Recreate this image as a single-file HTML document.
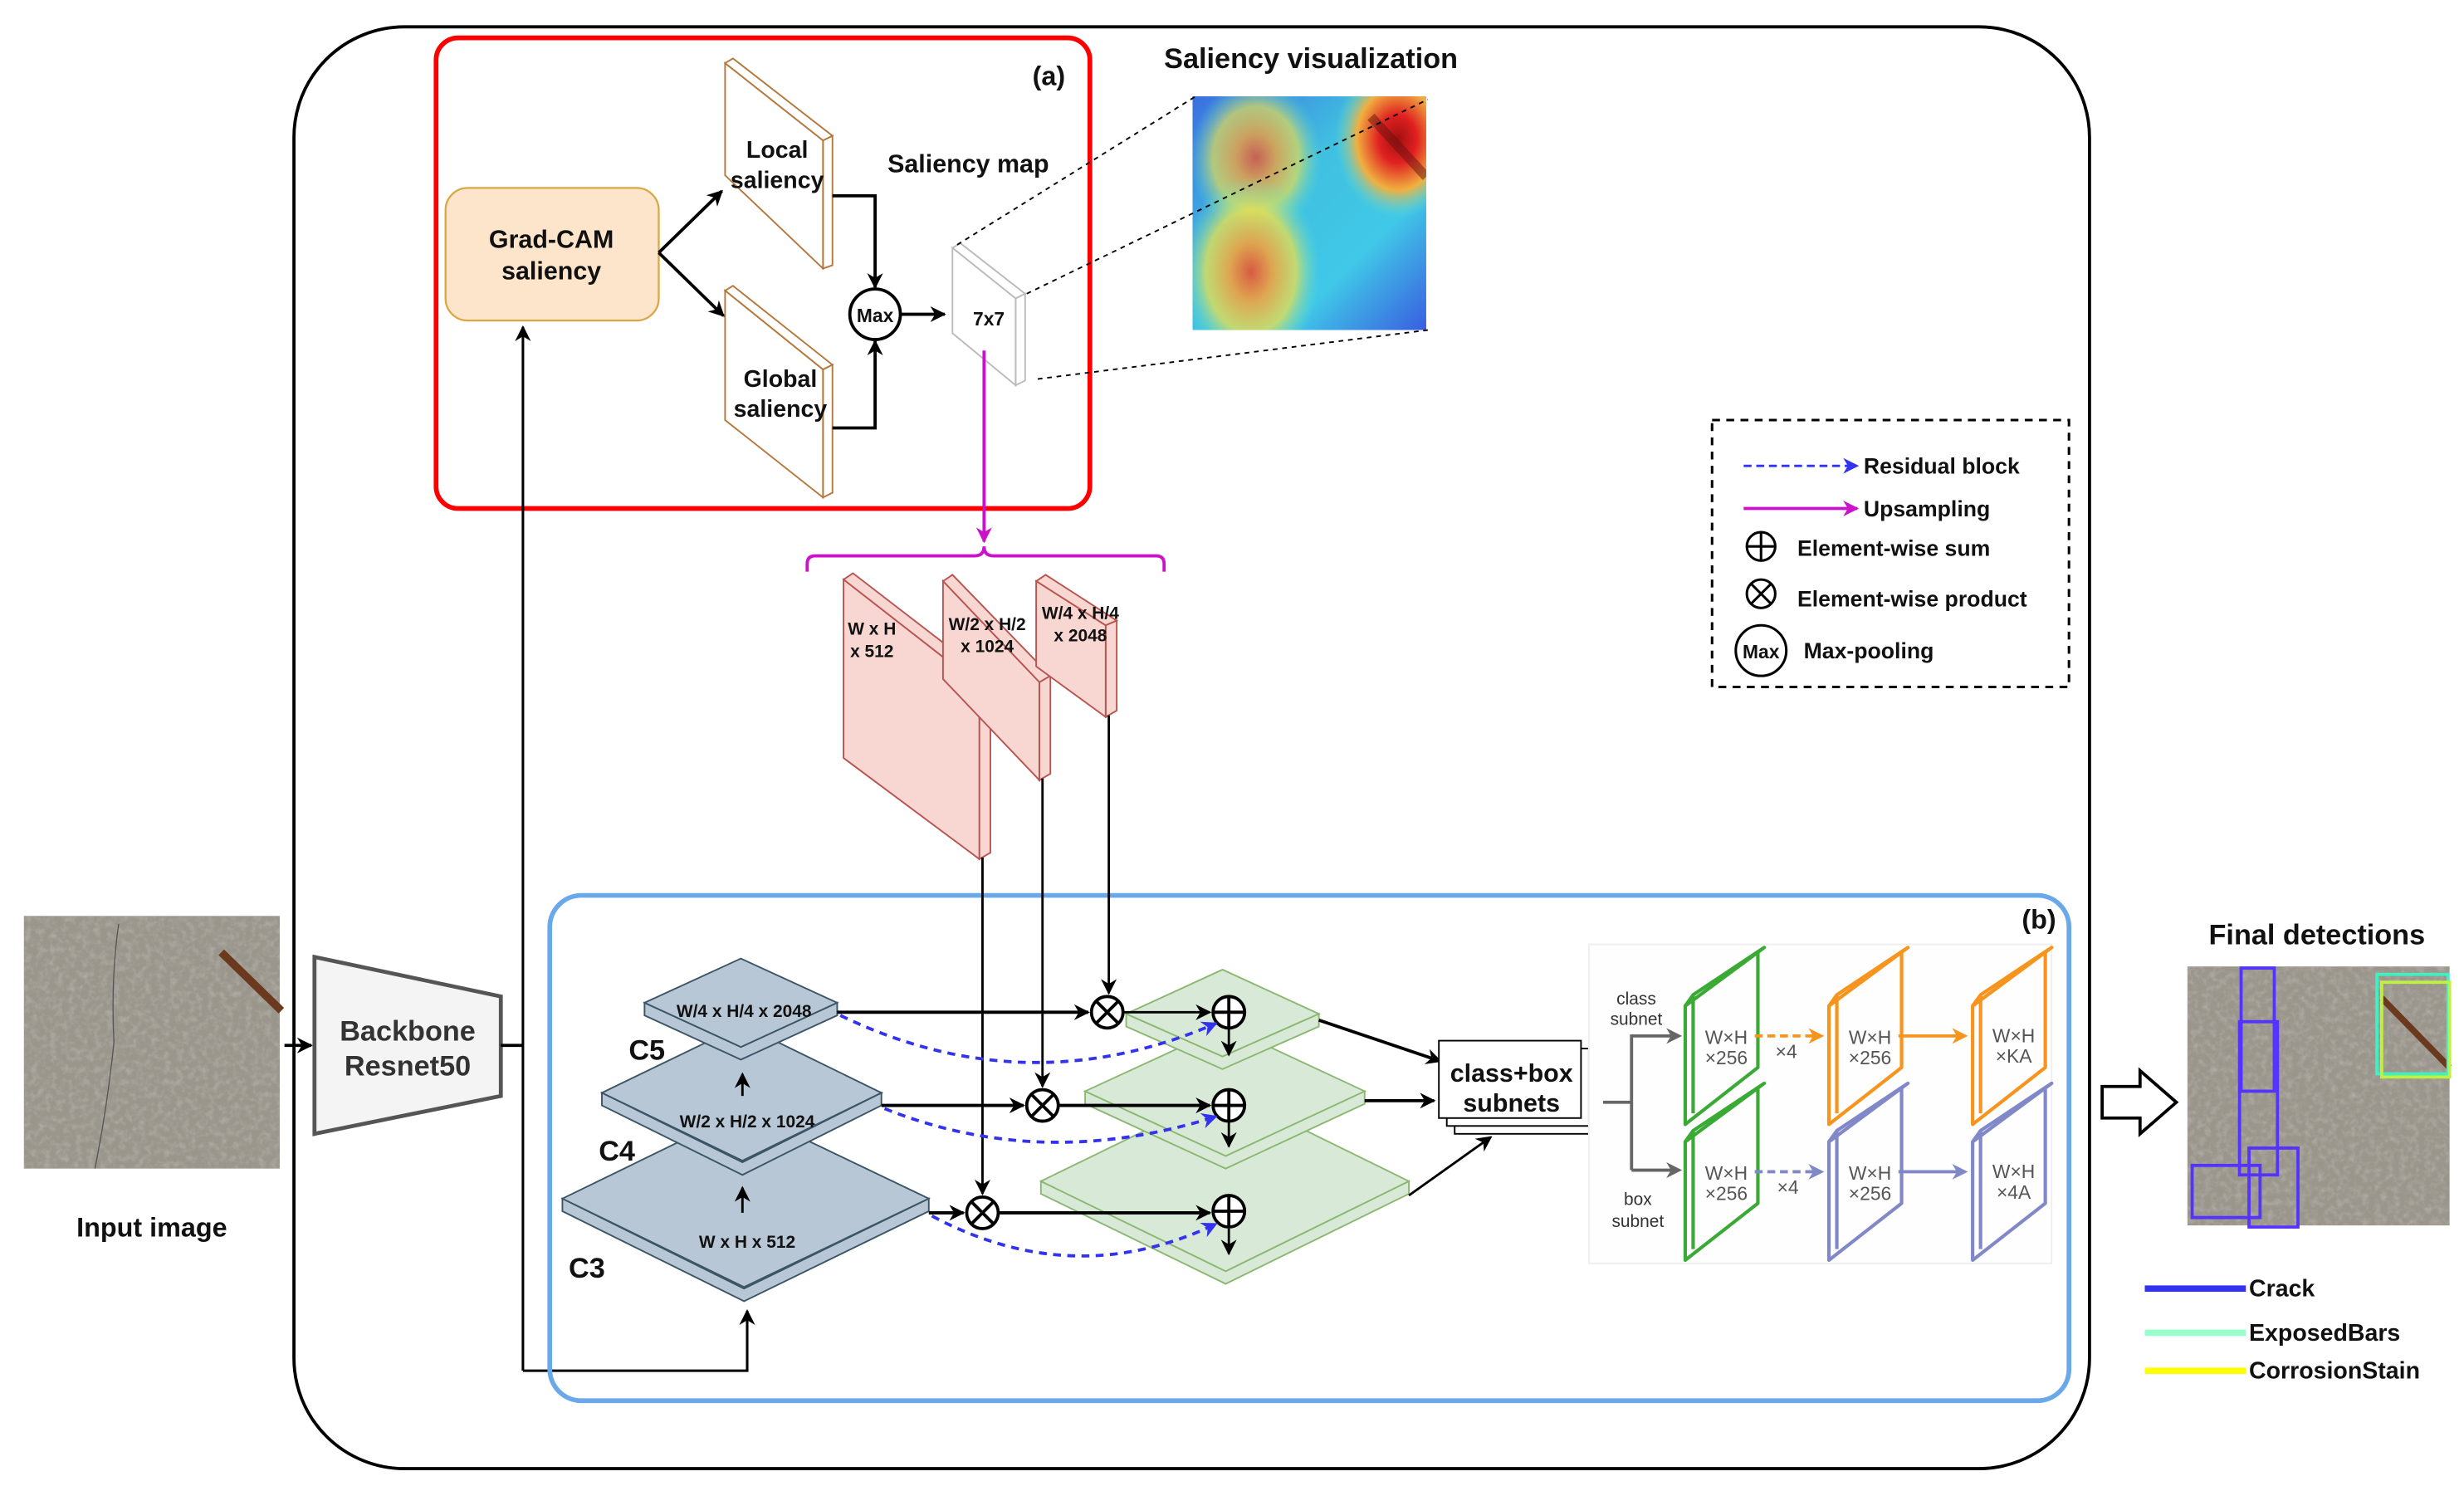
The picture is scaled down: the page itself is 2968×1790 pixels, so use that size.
<!DOCTYPE html>
<html><head><meta charset="utf-8"><style>
html,body{margin:0;padding:0;background:#fff;}
svg{display:block;}
text{font-family:"Liberation Sans",Arial,sans-serif;font-weight:bold;fill:#111;}
</style></head><body>
<svg width="2968" height="1790" viewBox="0 0 1560 941" xmlns="http://www.w3.org/2000/svg">
<defs>
<marker id="ak" markerUnits="userSpaceOnUse" markerWidth="12" markerHeight="12" refX="9" refY="5" orient="auto"><path d="M0,0 L10,5 L0,10 L3,5 z" fill="#000"/></marker>
<marker id="ab" markerUnits="userSpaceOnUse" markerWidth="12" markerHeight="12" refX="9" refY="5" orient="auto"><path d="M0,0 L10,5 L0,10 L3,5 z" fill="#3333ee"/></marker>
<marker id="am" markerUnits="userSpaceOnUse" markerWidth="12" markerHeight="12" refX="9" refY="5" orient="auto"><path d="M0,0 L10,5 L0,10 L3,5 z" fill="#cc11cc"/></marker>
<marker id="ag" markerUnits="userSpaceOnUse" markerWidth="12" markerHeight="12" refX="8" refY="5" orient="auto"><path d="M0,0 L10,5 L0,10 L3,5 z" fill="#666"/></marker>
<marker id="ao" markerUnits="userSpaceOnUse" markerWidth="12" markerHeight="12" refX="8" refY="5" orient="auto"><path d="M0,0 L10,5 L0,10 L3,5 z" fill="#f7941d"/></marker>
<marker id="al" markerUnits="userSpaceOnUse" markerWidth="12" markerHeight="12" refX="8" refY="5" orient="auto"><path d="M0,0 L10,5 L0,10 L3,5 z" fill="#8088c8"/></marker>
<filter id="conc" x="0" y="0" width="100%" height="100%">
<feTurbulence type="fractalNoise" baseFrequency="0.25" numOctaves="3" seed="4"/>
<feColorMatrix type="matrix" values="0 0 0 0 0.5  0 0 0 0 0.48  0 0 0 0 0.45  0 0 0 1.3 -0.55"/>
<feComposite in2="SourceGraphic" operator="in"/>
</filter>
<clipPath id="hclip"><rect x="755" y="61" width="148" height="148"/></clipPath>
<radialGradient id="hy"><stop offset="0" stop-color="#e85030"/><stop offset="0.3" stop-color="#f0a040"/><stop offset="0.65" stop-color="#e8e050" stop-opacity="0.85"/><stop offset="1" stop-color="#60e0d0" stop-opacity="0"/></radialGradient>
<radialGradient id="hr"><stop offset="0" stop-color="#a01010"/><stop offset="0.3" stop-color="#e02020"/><stop offset="0.65" stop-color="#f0b040"/><stop offset="1" stop-color="#60e0d0" stop-opacity="0"/></radialGradient>
<linearGradient id="hb" x1="0" y1="0" x2="1" y2="1"><stop offset="0" stop-color="#3a6ee0"/><stop offset="0.4" stop-color="#40c0e0"/><stop offset="0.7" stop-color="#40c8e8"/><stop offset="1" stop-color="#3a5ee0"/></linearGradient>
</defs>

<rect x="186" y="17" width="1137" height="913" rx="70" fill="none" stroke="#000" stroke-width="2"/>

<rect x="276" y="24" width="414" height="298" rx="14" fill="none" stroke="#f00" stroke-width="3"/>
<text x="664" y="54" font-size="17" text-anchor="middle">(a)</text>
<rect x="282" y="119" width="135" height="84" rx="14" fill="#fde5cc" stroke="#d9a845" stroke-width="1.2"/>
<text x="349" y="157" font-size="16" text-anchor="middle">Grad-CAM</text>
<text x="349" y="177" font-size="16" text-anchor="middle">saliency</text>

<g fill="#fff" stroke="#b5763a" stroke-width="1">
<polygon points="459,40 464,37 527,86 521,89"/>
<polygon points="521,89 527,86 527,168 521,170"/>
<polygon points="459,40 521,89 521,170 459,111"/>
<polygon points="459,184 464,181 527,231 521,234"/>
<polygon points="521,234 527,231 527,312 521,315"/>
<polygon points="459,184 521,234 521,315 459,266"/>
</g>
<text x="492" y="100" font-size="15" text-anchor="middle">Local</text>
<text x="492" y="119" font-size="15" text-anchor="middle">saliency</text>
<text x="494" y="245" font-size="15" text-anchor="middle">Global</text>
<text x="494" y="264" font-size="15" text-anchor="middle">saliency</text>
<path d="M417,160 L457,121" stroke="#000" stroke-width="2" fill="none" marker-end="url(#ak)"/>
<path d="M417,160 L458,200" stroke="#000" stroke-width="2" fill="none" marker-end="url(#ak)"/>
<path d="M527,124 L554,124 L554,182" stroke="#000" stroke-width="2" fill="none" marker-end="url(#ak)"/>
<path d="M527,271 L554,271 L554,216" stroke="#000" stroke-width="2" fill="none" marker-end="url(#ak)"/>
<circle cx="554" cy="199" r="16" fill="#fff" stroke="#000" stroke-width="2"/>
<text x="554" y="204" font-size="12" text-anchor="middle">Max</text>
<path d="M570,199 L598,199" stroke="#000" stroke-width="2" fill="none" marker-end="url(#ak)"/>

<g fill="#fff" stroke="#bbb" stroke-width="1">
<polygon points="603,157 608,154 649,186 643,189"/>
<polygon points="643,189 649,186 649,241 643,244"/>
<polygon points="603,157 643,189 643,244 603,211"/>
</g>
<text x="626" y="206" font-size="12" text-anchor="middle">7x7</text>
<text x="613" y="109" font-size="16" text-anchor="middle">Saliency map</text>

<text x="830" y="43" font-size="18" text-anchor="middle">Saliency visualization</text>
<g clip-path="url(#hclip)">
<rect x="755" y="61" width="148" height="148" fill="url(#hb)"/>
<ellipse cx="795" cy="100" rx="42" ry="50" fill="url(#hy)" opacity="0.8"/>
<ellipse cx="792" cy="172" rx="44" ry="60" fill="url(#hy)" opacity="0.9"/>
<ellipse cx="885" cy="88" rx="40" ry="50" fill="url(#hr)"/>
<path d="M868,74 L903,112" stroke="#6a1010" stroke-width="6" opacity="0.5"/>
</g>
<g stroke="#000" stroke-width="1" stroke-dasharray="3,3" fill="none">
<path d="M606,155 L757,61"/>
<path d="M650,186 L904,63"/>
<path d="M657,240 L904,209"/>
</g>

<path d="M623,222 L623,343" stroke="#cc11cc" stroke-width="2" fill="none" marker-end="url(#am)"/>
<path d="M511,362 L511,357 Q511,352 516,352 L617,352 Q623,352 623,346 Q623,352 629,352 L732,352 Q737,352 737,357 L737,362" stroke="#cc11cc" stroke-width="2" fill="none"/>

<g fill="#f8d7d3" stroke="#b85450" stroke-width="1">
<polygon points="534,367 540,363 627,430 620,434"/>
<polygon points="620,434 627,430 627,540 620,544"/>
<polygon points="534,367 620,434 620,544 534,480"/>
<polygon points="597,368 603,364 665,428 658,432"/>
<polygon points="658,432 665,428 665,490 658,494"/>
<polygon points="597,368 658,432 658,494 597,430"/>
<polygon points="656,368 662,364 707,393 700,396"/>
<polygon points="700,396 707,393 707,450 700,454"/>
<polygon points="656,368 700,396 700,454 656,422"/>
</g>
<g font-size="11">
<text x="552" y="402" text-anchor="middle">W x H</text>
<text x="552" y="416" text-anchor="middle">x 512</text>
<text x="625" y="399" text-anchor="middle">W/2 x H/2</text>
<text x="625" y="413" text-anchor="middle">x 1024</text>
<text x="684" y="392" text-anchor="middle">W/4 x H/4</text>
<text x="684" y="406" text-anchor="middle">x 2048</text>
</g>

<rect x="1084" y="266" width="226" height="169" fill="none" stroke="#000" stroke-width="1.6" stroke-dasharray="5,4"/>
<path d="M1104,295 L1176,295" stroke="#3333ee" stroke-width="1.5" stroke-dasharray="5,3" fill="none" marker-end="url(#ab)"/>
<text x="1180" y="300" font-size="14">Residual block</text>
<path d="M1104,322 L1176,322" stroke="#cc11cc" stroke-width="2" fill="none" marker-end="url(#am)"/>
<text x="1180" y="327" font-size="14">Upsampling</text>
<g stroke="#000" stroke-width="1.6" fill="#fff">
<circle cx="1115" cy="346" r="9"/><path d="M1106,346 H1124 M1115,337 V355"/>
<circle cx="1115" cy="376" r="9"/><path d="M1109,370 L1121,382 M1121,370 L1109,382"/>
<circle cx="1115" cy="412" r="16"/>
</g>
<text x="1115" y="417" font-size="12" text-anchor="middle">Max</text>
<text x="1138" y="352" font-size="14">Element-wise sum</text>
<text x="1138" y="384" font-size="14">Element-wise product</text>
<text x="1142" y="417" font-size="14">Max-pooling</text>

<rect x="15" y="580" width="162" height="160" fill="#9a968c"/>
<rect x="15" y="580" width="162" height="160" fill="#a8a396" filter="url(#conc)"/>
<path d="M140,603 L178,640" stroke="#6b3a1e" stroke-width="5"/>
<path d="M75,585 Q70,620 72,660 Q68,700 60,740" stroke="#555" stroke-width="0.7" fill="none"/>
<text x="96" y="783" font-size="17" text-anchor="middle">Input image</text>
<path d="M180,662 L197,662" stroke="#000" stroke-width="2" marker-end="url(#ak)"/>

<polygon points="199,606 317,631 317,694 199,718" fill="#f4f4f4" stroke="#555" stroke-width="2.5"/>
<text x="258" y="659" font-size="18" text-anchor="middle" style="fill:#333">Backbone</text>
<text x="258" y="681" font-size="18" text-anchor="middle" style="fill:#333">Resnet50</text>
<path d="M317,662 L331,662" stroke="#000" stroke-width="2"/>
<path d="M331,868 L331,207" stroke="#000" stroke-width="1.6" fill="none" marker-end="url(#ak)"/>
<path d="M331,868 L473,868 L473,830" stroke="#000" stroke-width="1.6" fill="none" marker-end="url(#ak)"/>

<rect x="348" y="567" width="962" height="320" rx="20" fill="none" stroke="#6aa9e9" stroke-width="3"/>
<text x="1291" y="588" font-size="17" text-anchor="middle">(b)</text>

<path d="M622,543 L622,756" stroke="#000" stroke-width="1.5" marker-end="url(#ak)"/>
<path d="M660,493 L660,688" stroke="#000" stroke-width="1.5" marker-end="url(#ak)"/>
<path d="M702,453 L702,629" stroke="#000" stroke-width="1.5" marker-end="url(#ak)"/>

<g fill="#b8c7d6" stroke="#3b5566" stroke-width="1">
<polygon points="356,759 356,767 471,824 588,767 588,759 471,816"/>
<polygon points="356,759 471,703 588,759 471,815"/>
<polygon points="381,692 381,700 470,744 558,700 558,692 470,736"/>
<polygon points="381,692 470,649 558,692 470,735"/>
<polygon points="408,635 408,643 469,671 530,643 530,635 469,663"/>
<polygon points="408,635 469,607 530,635 469,663"/>
</g>
<text x="471" y="644" font-size="11" text-anchor="middle">W/4 x H/4 x 2048</text>
<text x="473" y="714" font-size="11" text-anchor="middle">W/2 x H/2 x 1024</text>
<text x="473" y="790" font-size="11" text-anchor="middle">W x H x 512</text>
<text x="398" y="671" font-size="18">C5</text>
<text x="379" y="735" font-size="18">C4</text>
<text x="360" y="809" font-size="18">C3</text>
<path d="M470,694 L470,680" stroke="#000" stroke-width="1.5" marker-end="url(#ak)"/>
<path d="M470,768 L470,752" stroke="#000" stroke-width="1.5" marker-end="url(#ak)"/>

<g fill="#d5e8d4" stroke="#82b366" stroke-width="1" opacity="0.92">
<polygon points="659,748 659,756 776,813 892,756 892,748 776,805"/>
<polygon points="659,748 776,691 892,748 776,805"/>
<polygon points="687,691 687,699 776,740 864,699 864,691 776,732"/>
<polygon points="687,691 776,650 864,691 776,732"/>
<polygon points="713,642 713,650 774,677 835,650 835,642 774,669"/>
<polygon points="713,642 774,614 835,642 774,669"/>
</g>

<g stroke="#000" stroke-width="2" fill="none">
<path d="M530,641 L689,641" marker-end="url(#ak)"/>
<path d="M711,641 L766,641" stroke-width="1.5" marker-end="url(#ak)"/>
<path d="M558,700 L648,700" marker-end="url(#ak)"/>
<path d="M670,700 L766,700" marker-end="url(#ak)"/>
<path d="M588,768 L610,768" marker-end="url(#ak)"/>
<path d="M632,768 L766,768" marker-end="url(#ak)"/>
<path d="M778,651 L778,668" stroke-width="1.5" marker-end="url(#ak)"/>
<path d="M778,710 L778,726" stroke-width="1.5" marker-end="url(#ak)"/>
<path d="M778,778 L778,794" stroke-width="1.5" marker-end="url(#ak)"/>
<path d="M835,646 L912,672" marker-end="url(#ak)"/>
<path d="M864,697 L908,697" marker-end="url(#ak)"/>
<path d="M892,757 L944,720" stroke-width="1.5" marker-end="url(#ak)"/>
</g>
<g stroke="#000" stroke-width="2" fill="#fff">
<circle cx="701" cy="641" r="10"/><path d="M694,634 L708,648 M708,634 L694,648"/>
<circle cx="660" cy="700" r="10"/><path d="M653,693 L667,707 M667,693 L653,707"/>
<circle cx="622" cy="768" r="10"/><path d="M615,761 L629,775 M629,761 L615,775"/>
<circle cx="778" cy="641" r="10"/><path d="M768,641 H788 M778,631 V651"/>
<circle cx="778" cy="700" r="10"/><path d="M768,700 H788 M778,690 V710"/>
<circle cx="778" cy="767" r="10"/><path d="M768,767 H788 M778,757 V777"/>
</g>
<g stroke="#3333ee" stroke-width="2" stroke-dasharray="5,4" fill="none">
<path d="M532,643 Q650,700 770,648" marker-end="url(#ab)"/>
<path d="M560,702 Q660,742 770,707" marker-end="url(#ab)"/>
<path d="M590,770 Q680,818 770,775" marker-end="url(#ab)"/>
</g>

<g fill="#fff" stroke="#000" stroke-width="1">
<rect x="921" y="669" width="90" height="49"/>
<rect x="916" y="664" width="90" height="49"/>
<rect x="911" y="659" width="90" height="49"/>
</g>
<text x="957" y="685" font-size="16" text-anchor="middle">class+box</text>
<text x="957" y="704" font-size="16" text-anchor="middle">subnets</text>

<rect x="1006" y="598" width="293" height="202" fill="#fefefe" stroke="#eee" stroke-width="1"/>
<path d="M1015,698 L1033,698 M1033,655 L1033,741" stroke="#666" stroke-width="2" fill="none"/>
<path d="M1033,656 L1063,656" stroke="#666" stroke-width="2" marker-end="url(#ag)"/>
<path d="M1033,741 L1063,741" stroke="#666" stroke-width="2" marker-end="url(#ag)"/>
<g font-size="11" text-anchor="middle">
<text x="1036" y="636" style="fill:#333;font-weight:normal">class</text>
<text x="1036" y="649" style="fill:#333;font-weight:normal">subnet</text>
<text x="1037" y="763" style="fill:#333;font-weight:normal">box</text>
<text x="1037" y="777" style="fill:#333;font-weight:normal">subnet</text>
</g>
<g fill="none" stroke-width="2.2" stroke-linejoin="round">
<g stroke="#3aaa35">
<polygon points="1067,637 1113,603 1113,676 1067,712"/><polyline points="1067,637 1072,630 1117,600 1113,603"/><path d="M1072,630 L1072,705"/>
<polygon points="1067,723 1113,689 1113,762 1067,798"/><polyline points="1067,723 1072,716 1117,686 1113,689"/><path d="M1072,716 L1072,791"/>
</g>
<g stroke="#f7941d">
<polygon points="1158,637 1204,603 1204,676 1158,712"/><polyline points="1158,637 1163,630 1208,600 1204,603"/><path d="M1163,630 L1163,705"/>
<polygon points="1249,637 1295,603 1295,676 1249,712"/><polyline points="1249,637 1254,630 1299,600 1295,603"/><path d="M1254,630 L1254,705"/>
</g>
<g stroke="#8088c8">
<polygon points="1158,723 1204,689 1204,762 1158,798"/><polyline points="1158,723 1163,716 1208,686 1204,689"/><path d="M1163,716 L1163,791"/>
<polygon points="1249,723 1295,689 1295,762 1249,798"/><polyline points="1249,723 1254,716 1299,686 1295,689"/><path d="M1254,716 L1254,791"/>
</g>
</g>
<g font-size="12" text-anchor="middle">
<text x="1093" y="661" style="fill:#555;font-weight:normal">W×H</text><text x="1093" y="674" style="fill:#555;font-weight:normal">×256</text>
<text x="1184" y="661" style="fill:#555;font-weight:normal">W×H</text><text x="1184" y="674" style="fill:#555;font-weight:normal">×256</text>
<text x="1275" y="660" style="fill:#555;font-weight:normal">W×H</text><text x="1275" y="673" style="fill:#555;font-weight:normal">×KA</text>
<text x="1093" y="747" style="fill:#555;font-weight:normal">W×H</text><text x="1093" y="760" style="fill:#555;font-weight:normal">×256</text>
<text x="1184" y="747" style="fill:#555;font-weight:normal">W×H</text><text x="1184" y="760" style="fill:#555;font-weight:normal">×256</text>
<text x="1275" y="746" style="fill:#555;font-weight:normal">W×H</text><text x="1275" y="759" style="fill:#555;font-weight:normal">×4A</text>
<text x="1131" y="670" style="fill:#555;font-weight:normal">×4</text>
<text x="1132" y="756" style="fill:#555;font-weight:normal">×4</text>
</g>
<path d="M1111,656 L1153,656" stroke="#f7941d" stroke-width="2" stroke-dasharray="5,3" marker-end="url(#ao)"/>
<path d="M1202,656 L1244,656" stroke="#f7941d" stroke-width="2" marker-end="url(#ao)"/>
<path d="M1111,742 L1153,742" stroke="#8088c8" stroke-width="2" stroke-dasharray="5,3" marker-end="url(#al)"/>
<path d="M1202,742 L1244,742" stroke="#8088c8" stroke-width="2" marker-end="url(#al)"/>

<polygon points="1331,688 1355,688 1355,678 1378,698 1355,718 1355,708 1331,708" fill="#fff" stroke="#000" stroke-width="2"/>

<text x="1467" y="598" font-size="18" text-anchor="middle">Final detections</text>
<rect x="1385" y="612" width="166" height="164" fill="#9a968c"/>
<rect x="1385" y="612" width="166" height="164" fill="#a8a396" filter="url(#conc)"/>
<path d="M1508,632 L1551,676" stroke="#6b3a1e" stroke-width="4"/>
<g fill="none" stroke="#5533ff" stroke-width="2">
<rect x="1419" y="613" width="21" height="78"/>
<rect x="1418" y="647" width="24" height="97"/>
<rect x="1424" y="727" width="31" height="50"/>
<rect x="1388" y="738" width="43" height="33"/>
</g>
<rect x="1505" y="617" width="45" height="63" fill="none" stroke="#40f0c0" stroke-width="2"/>
<rect x="1508" y="622" width="43" height="60" fill="none" stroke="#c0f040" stroke-width="2"/>

<path d="M1358,816 L1422,816" stroke="#3333ee" stroke-width="4"/>
<text x="1424" y="821" font-size="15">Crack</text>
<path d="M1358,844 L1422,844" stroke="#99ffcc" stroke-width="4"/>
<text x="1424" y="849" font-size="15">ExposedBars</text>
<path d="M1358,868 L1422,868" stroke="#ffff00" stroke-width="4"/>
<text x="1424" y="873" font-size="15">CorrosionStain</text>
</svg>
</body></html>
